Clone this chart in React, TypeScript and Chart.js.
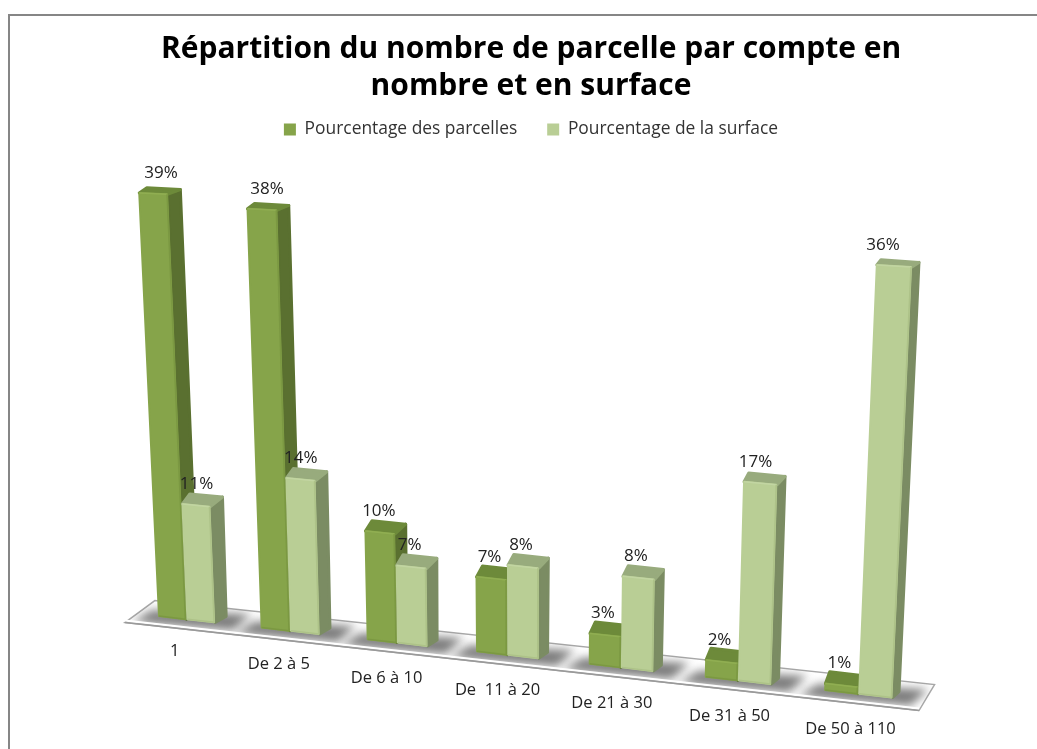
import React, { useEffect, useRef } from "react";
import { Chart, registerables } from "chart.js";

Chart.register(...registerables);

const categories = ["1", "De 2 à 5", "De 6 à 10", "De  11 à 20", "De 21 à 30", "De 31 à 50", "De 50 à 110"];
const parcelles = [39, 38, 9.8, 6.7, 2.8, 1.6, 0.7];
const surface = [10.7, 13.9, 7, 8, 8, 17, 36];
const titleLines = ["Répartition du nombre de parcelle par compte en", "nombre et en surface"];
const seriesNames = ["Pourcentage des parcelles", "Pourcentage de la surface"];

const FONT = "'Open Sans', sans-serif";
const PAL = [
  { front: "#86a44a", rim: "#90ae52", edge: "#7b9842", side: "#5a7030", top: "#6d8a3a" },
  { front: "#b9ce95", rim: "#c2d5a2", edge: "#adc288", side: "#7b8c63", top: "#98ab7d" },
];

const GROUP_FRACTION = 0.56;
const MAX_VALUE = 40;

// Oblique projection of the chart's scale space to the tilted "3D" floor.
function projector(chart: any) {
  const a = chart.chartArea;
  const pitch = a.width / categories.length;
  const yScale = chart.scales.y;
  const sOf = (xPx: number) => (xPx - a.left) / pitch - (1 - GROUP_FRACTION) / 2;
  return (xPx: number, yPx: number) => {
    const s = sOf(xPx);
    const value = yScale.getValueForPixel(yPx);
    const x0 = 158 + 101 * s + 1.67 * s * s;
    const y0 = 617 + 0.111 * (x0 - 158);
    const h = value * (10.9 + 0.17 * s);
    return { s, h, x: x0 + (x0 - 530) * h * 1.25e-4, y: y0 - h, x0, y0 };
  };
}

function poly(ctx: CanvasRenderingContext2D, pts: number[][]) {
  ctx.beginPath();
  pts.forEach((p, i) => (i ? ctx.lineTo(p[0], p[1]) : ctx.moveTo(p[0], p[1])));
  ctx.closePath();
}

const fmt = (v: number) => Math.round(v) + "%";

const scene3d = {
  id: "scene3d",
  beforeDraw(chart: any) {
    const { ctx, width, height } = chart;
    ctx.save();
    ctx.fillStyle = "#fff";
    ctx.fillRect(0, 0, width, height);
    ctx.strokeStyle = "#868686";
    ctx.lineWidth = 2;
    ctx.beginPath();
    ctx.moveTo(9, height);
    ctx.lineTo(9, 15);
    ctx.lineTo(width, 15);
    ctx.stroke();
    ctx.restore();
  },
  beforeDatasetsDraw(chart: any) {
    const { ctx, chartArea: a } = chart;
    const project = projector(chart);
    const zeroY = chart.scales.y.getPixelForValue(0);
    const L = project(a.left, zeroY);
    const R = project(a.right, zeroY);

    // floor
    const floor = [
      [L.x - 11, L.y + 8],
      [L.x + 19, L.y - 14],
      [R.x + 15, R.y - 17],
      [R.x - 0.5, R.y + 9],
    ];
    ctx.save();
    poly(ctx, floor);
    ctx.fillStyle = "#fff";
    ctx.fill();
    ctx.strokeStyle = "#a8a8a8";
    ctx.lineWidth = 1.5;
    ctx.stroke();
    ctx.restore();

    const m0 = chart.getDatasetMeta(0).data;
    const m1 = chart.getDatasetMeta(1).data;

    // floor shadows
    ctx.save();
    poly(ctx, floor);
    ctx.clip();
    ctx.filter = "blur(5px)";
    ctx.fillStyle = "#7c7c7c";
    m0.forEach((b: any, i: number) => {
      const c = m1[i];
      const p0 = project(b.x - b.width / 2, zeroY);
      const p1 = project(c.x + c.width / 2, zeroY);
      poly(ctx, [
        [p0.x - 26, p0.y + 5],
        [p0.x - 6, p0.y - 7],
        [p1.x + 36, p1.y - 9],
        [p1.x + 18, p1.y + 7],
      ]);
      ctx.fill();
    });
    ctx.restore();

    // front floor rim
    ctx.save();
    ctx.strokeStyle = "#fff";
    ctx.lineWidth = 2;
    ctx.beginPath();
    ctx.moveTo(floor[0][0], floor[0][1] - 2);
    ctx.lineTo(floor[3][0], floor[3][1] - 2);
    ctx.stroke();
    ctx.strokeStyle = "#9a9a9a";
    ctx.lineWidth = 1.5;
    ctx.beginPath();
    ctx.moveTo(floor[0][0], floor[0][1]);
    ctx.lineTo(floor[3][0], floor[3][1]);
    ctx.stroke();
    ctx.restore();

    // bars
    const drawBar = (el: any, pal: any) => {
      const l = el.x - el.width / 2;
      const r = el.x + el.width / 2;
      const tl = project(l, el.y);
      const tr = project(r, el.y);
      const bl = project(l, el.base);
      const br = project(r, el.base);
      const dxT = 13.5 - 0.85 * tr.s;
      const dyT = -Math.max(4, 12 - 0.016 * tr.h);
      const dxB = 12.5 - 0.75 * br.s;
      const dyB = -7;
      ctx.save();
      ctx.lineJoin = "round";
      ctx.lineWidth = 3;
      // side
      const side = [
        [tr.x, tr.y + 1],
        [tr.x + dxT - 1, tr.y + dyT + 1.5],
        [br.x + dxB - 1, br.y + dyB],
        [br.x, br.y - 1],
      ];
      poly(ctx, side);
      ctx.fillStyle = pal.side;
      ctx.strokeStyle = pal.side;
      ctx.fill();
      ctx.stroke();
      // top
      const topFace = [
        [tl.x + 1, tl.y + 1],
        [tl.x + dxT * 0.65, tl.y + dyT + 1],
        [tr.x + dxT - 1, tr.y + dyT + 1.5],
        [tr.x, tr.y + 1],
      ];
      poly(ctx, topFace);
      ctx.fillStyle = pal.top;
      ctx.strokeStyle = pal.top;
      ctx.fill();
      ctx.stroke();
      // front
      ctx.lineWidth = 2;
      const front = [
        [tl.x + 1, tl.y + 1],
        [tr.x - 1, tr.y + 1],
        [br.x - 1, br.y - 1],
        [bl.x + 1, bl.y - 1],
      ];
      poly(ctx, front);
      ctx.fillStyle = pal.front;
      ctx.strokeStyle = pal.front;
      ctx.fill();
      ctx.stroke();
      // bevel
      ctx.lineWidth = 1.5;
      ctx.strokeStyle = pal.rim;
      ctx.beginPath();
      ctx.moveTo(tl.x + 1, tl.y + 1);
      ctx.lineTo(tr.x - 1, tr.y + 1);
      ctx.stroke();
      ctx.strokeStyle = pal.edge;
      ctx.beginPath();
      ctx.moveTo(tr.x - 1, tr.y + 1);
      ctx.lineTo(br.x - 1, br.y - 1);
      ctx.lineTo(bl.x + 1, bl.y - 1);
      ctx.stroke();
      ctx.restore();
    };
    m0.forEach((b: any, i: number) => {
      drawBar(b, PAL[0]);
      drawBar(m1[i], PAL[1]);
    });

    // value labels
    ctx.save();
    ctx.font = `17px ${FONT}`;
    ctx.fillStyle = "#222";
    ctx.textAlign = "center";
    ctx.textBaseline = "middle";
    [m0, m1].forEach((meta: any[], d: number) => {
      meta.forEach((el: any, i: number) => {
        const v = chart.data.datasets[d].data[i];
        const l = project(el.x - el.width / 2, el.y);
        const r = project(el.x + el.width / 2, el.y);
        const lean = l.x - project(el.x - el.width / 2, el.base).x;
        ctx.fillText(fmt(v), (l.x + r.x) / 2 - 0.5 * lean - 2, l.y - 19);
      });
    });
    // category labels
    ctx.font = `16.5px ${FONT}`;
    chart.data.labels.forEach((lab: string, i: number) => {
      const p = project(m1[i].x - m1[i].width / 2, zeroY);
      const dy = Math.min(34, 30 + p.s * 1.5);
      ctx.fillText(lab, p.x - 12 + p.s * 0.7, p.y + dy + 1);
    });
    ctx.restore();
    return false;
  },
};

export default function App() {
  const ref = useRef<HTMLCanvasElement>(null);
  useEffect(() => {
    document.body.style.margin = "0";
    const chart = new Chart(ref.current as HTMLCanvasElement, {
      type: "bar",
      data: {
        labels: categories,
        datasets: [
          { label: seriesNames[0], data: parcelles, backgroundColor: PAL[0].front, barPercentage: 1, categoryPercentage: GROUP_FRACTION },
          { label: seriesNames[1], data: surface, backgroundColor: PAL[1].front, barPercentage: 1, categoryPercentage: GROUP_FRACTION },
        ],
      },
      options: {
        responsive: false,
        animation: false,
        layout: { padding: { left: 125, right: 100, bottom: 60, top: 0 } },
        plugins: {
          tooltip: { enabled: false },
          title: {
            display: true,
            text: titleLines,
            color: "#000",
            font: { family: FONT, size: 30, weight: "bold", lineHeight: 1.23 },
            padding: { top: 31, bottom: -14 },
          },
          legend: {
            position: "top",
            labels: {
              boxWidth: 12,
              boxHeight: 12,
              padding: 30,
              color: "#333",
              font: { family: FONT, size: 17.4 },
            },
          },
        },
        scales: {
          x: { display: false },
          y: { display: false, min: 0, max: MAX_VALUE },
        },
      },
      plugins: [scene3d],
    } as any);
    return () => chart.destroy();
  }, []);
  return <canvas ref={ref} width={1037} height={749} style={{ display: "block" }} />;
}
